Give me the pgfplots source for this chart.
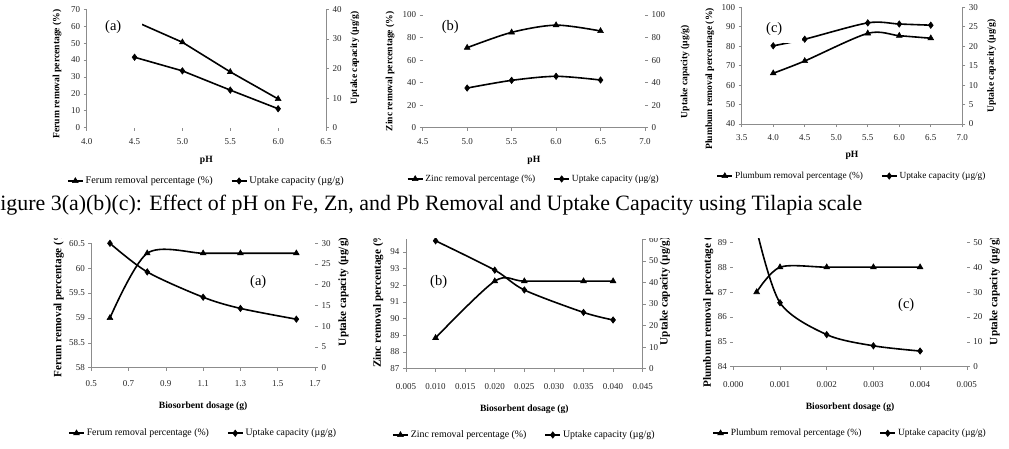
\documentclass[border=0pt]{standalone}
\usepackage{pgfplots}
\pgfplotsset{compat=1.18}
\usepackage{fontspec}
\setmainfont{Liberation Serif}

\newcommand\tickfont{\fontsize{9}{10}\selectfont}
\newcommand\labfont{\fontsize{9.6}{10}\selectfont\bfseries}
\newcommand\blabfont{\fontsize{11.2}{12}\selectfont\bfseries}
\newcommand\panfont{\fontsize{14.5}{15}\selectfont}
\newcommand\lfs[1]{\fontsize{#1}{11}\selectfont}

\pgfplotsset{
  base/.style={
    scale only axis, clip=false,
    tick align=outside, major tick length=3pt,
    axis line style={draw=black!45, line width=0.6pt},
    tick style={draw=black!45, line width=0.6pt},
    every tick label/.append style={font=\tickfont, text=black!85},
    /pgf/number format/assume math mode=true,
    label style={font=\labfont},
    scaled x ticks=false, scaled y ticks=false,
  },
  leftax/.style={base, axis x line*=bottom, axis y line*=left, xticklabel shift=4pt},
  rightax/.style={base, axis x line=none, axis y line*=right,
    legend columns=2,
    legend style={draw=none, fill=none, inner sep=1pt,
      /tikz/every even column/.append style={column sep=16pt}},
    legend image code/.code={\draw[mark repeat=2,mark phase=2]
      plot coordinates {(0pt,0pt) (7.5pt,0pt) (15pt,0pt)};}},
  lower/.style={ylabel style={font=\blabfont}},
  rem/.style={black, line width=1.6pt, mark=triangle*, mark size=3.3pt, mark options={solid, line width=0.6pt}},
  upt/.style={black, line width=1.6pt, mark=diamond*, mark size=3.2pt, mark options={solid, line width=0.6pt}},
  xone/.style={xticklabel style={/pgf/number format/.cd, fixed, fixed zerofill, precision=1}},
  xthree/.style={xticklabel style={/pgf/number format/.cd, fixed, fixed zerofill, precision=3}},
}

\begin{document}
\begin{tikzpicture}
\path[use as bounding box] (0pt,0pt) rectangle (1009pt,448pt);
\clip (0pt,0pt) rectangle (1009pt,448pt);

% ---------- pH series, Fe ----------
\begin{axis}[leftax, xone, at={(86.7pt,320.3pt)}, width=239.3pt, height=118.4pt,
  xmin=4, xmax=6.5, ymin=0, ymax=70,
  xtick={4,4.5,5,5.5,6,6.5}, ytick={0,10,20,30,40,50,60,70},
  x axis line style={draw=none},
  xlabel={pH}, ylabel={Ferum removal percentage (\%)},
  xlabel style={at={(axis description cs:0.5,-0.28)}, anchor=center},
  ylabel style={at={(axis description cs:-0.124,0.454)}, anchor=center}]
\addplot[rem] coordinates {(4.5,63) (5.0,50.5) (5.5,33) (6.0,17)};
\end{axis}
\begin{axis}[rightax, at={(86.7pt,320.3pt)}, width=239.3pt, height=118.4pt,
  xmin=4, xmax=6.5, ymin=0, ymax=40, ytick={0,10,20,30,40},
  ylabel={Uptake capacity (µg/g)},
  ylabel style={at={(axis description cs:1.121,0.589)}, anchor=center},
  legend style={at={(0.5,-0.45)}, anchor=center, font=\lfs{10.2}}]
\addlegendimage{rem}\addlegendentry{Ferum removal percentage (\%)}
\addplot[upt] coordinates {(4.5,23.8) (5.0,19.2) (5.5,12.7) (6.0,6.4)};
\addlegendentry{Uptake capacity (µg/g)}
\end{axis}

% ---------- pH series, Zn ----------
\begin{axis}[leftax, xone, at={(422.7pt,320.3pt)}, width=222.3pt, height=112.7pt,
  xmin=4.5, xmax=7, ymin=0, ymax=100,
  xtick={4.5,5,5.5,6,6.5,7}, ytick={0,20,40,60,80,100},
  y axis line style={draw=none},
  xlabel={pH}, ylabel={Zinc removal percentage (\%)},
  xlabel style={at={(axis description cs:0.5,-0.29)}, anchor=center},
  ylabel style={at={(axis description cs:-0.147,0.5)}, anchor=center}]
\addplot[rem, smooth] coordinates {(5.0,71) (5.5,84.6) (6.0,91) (6.5,85.8)};
\end{axis}
\begin{axis}[rightax, at={(422.7pt,320.3pt)}, width=222.3pt, height=112.7pt,
  xmin=4.5, xmax=7, ymin=0, ymax=100, ytick={0,20,40,60,80,100},
  y axis line style={draw=none},
  ylabel={Uptake capacity (µg/g)},
  ylabel style={at={(axis description cs:1.18,0.497)}, anchor=center},
  legend style={at={(0.5,-0.455)}, anchor=center, font=\lfs{9.4}}]
\addlegendimage{rem}\addlegendentry{Zinc removal percentage (\%)}
\addplot[upt, smooth] coordinates {(5.0,35.2) (5.5,42) (6.0,45.6) (6.5,42.3)};
\addlegendentry{Uptake capacity (µg/g)}
\end{axis}

% ---------- pH series, Pb ----------
\begin{axis}[leftax, xone, at={(741.7pt,324pt)}, width=220.6pt, height=116.7pt,
  xmin=3.5, xmax=7, ymin=40, ymax=100,
  xtick={3.5,4,4.5,5,5.5,6,6.5,7}, ytick={40,50,60,70,80,90,100},
  xlabel={pH}, ylabel={Plumbum removal percentage (\%)},
  xlabel style={at={(axis description cs:0.5,-0.265)}, anchor=center},
  ylabel style={at={(axis description cs:-0.144,0.386)}, anchor=center}]
\addplot[rem, smooth] coordinates {(4.0,66.1) (4.5,72.4) (5.5,86.6) (6.0,85.4) (6.5,84.1)};
\end{axis}
\begin{axis}[rightax, at={(741.7pt,324pt)}, width=220.6pt, height=116.7pt,
  xmin=3.5, xmax=7, ymin=0, ymax=30, ytick={0,5,10,15,20,25,30},
  ylabel={Uptake capacity (µg/g)},
  ylabel style={at={(axis description cs:1.133,0.497)}, anchor=center},
  legend style={at={(0.5,-0.446)}, anchor=center, font=\lfs{9.3}}]
\addlegendimage{rem}\addlegendentry{Plumbum removal percentage (\%)}
\addplot[upt, smooth] coordinates {(4.0,20.1) (4.5,21.8) (5.5,26) (6.0,25.7) (6.5,25.4)};
\addlegendentry{Uptake capacity (µg/g)}
\end{axis}

% panel tags of the pH row
\node[fill=white, inner sep=0pt, minimum width=40.7pt, minimum height=26pt, anchor=north west] at (101pt,434pt) {};
\node[font=\panfont, anchor=base west, inner sep=0pt] at (105pt,417pt) {(a)};
\node[font=\panfont, anchor=base west, inner sep=0pt] at (441.7pt,417pt) {(b)};
\node[fill=white, inner sep=0pt, minimum width=18pt, minimum height=25pt, anchor=north west] at (784pt,430pt) {};
\node[font=\panfont, anchor=base west, inner sep=0pt] at (766pt,415.5pt) {(c)};

% caption line
\node[font=\fontsize{21.9}{24}\selectfont, anchor=base west, inner sep=0pt] at (-12pt,237.3pt)
  {Figure 3(a)(b)(c): Effect of pH on Fe, Zn, and Pb Removal and Uptake Capacity using Tilapia scale};

% ---------- dosage row ----------
\begin{scope}
\clip (0pt,0pt) rectangle (1009pt,209.5pt);

\begin{axis}[leftax, lower, xone, at={(91.3pt,80.3pt)}, width=223.7pt, height=124.4pt,
  xticklabel shift=6pt,
  xmin=0.5, xmax=1.7, ymin=58, ymax=60.5,
  xtick={0.5,0.7,0.9,1.1,1.3,1.5,1.7}, ytick={58,58.5,59,59.5,60,60.5},
  yticklabel style={/pgf/number format/.cd, fixed, precision=1},
  xlabel={Biosorbent dosage (g)}, ylabel={Ferum removal percentage (\%)},
  xlabel style={at={(axis description cs:0.5,-0.308)}, anchor=center},
  ylabel style={at={(axis description cs:-0.146,0.528)}, anchor=center}]
\addplot[rem, smooth] coordinates {(0.6,59) (0.8,60.3) (1.1,60.3) (1.3,60.3) (1.6,60.3)};
\end{axis}
\begin{axis}[rightax, lower, at={(91.3pt,80.3pt)}, width=223.7pt, height=124.4pt,
  xmin=0.5, xmax=1.7, ymin=0, ymax=30, ytick={0,5,10,15,20,25,30},
  y axis line style={draw=none},
  ylabel={Uptake capacity (µg/g)},
  ylabel style={at={(axis description cs:1.127,0.61)}, anchor=center},
  legend style={at={(0.5,-0.527)}, anchor=center, font=\lfs{9.8}}]
\addlegendimage{rem}\addlegendentry{Ferum removal percentage (\%)}
\addplot[upt, smooth] coordinates {(0.6,30) (0.8,23.1) (1.1,17) (1.3,14.3) (1.6,11.7)};
\addlegendentry{Uptake capacity (µg/g)}
\end{axis}

\begin{axis}[leftax, lower, xthree, at={(406pt,79.3pt)}, width=236.7pt, height=129.4pt,
  xticklabel shift=8pt,
  xmin=0.005, xmax=0.045, ymin=87, ymax=94.76,
  xtick={0.005,0.010,0.015,0.020,0.025,0.030,0.035,0.040,0.045},
  ytick={87,88,89,90,91,92,93,94},
  xlabel={Biosorbent dosage (g)}, ylabel={Zinc removal percentage (\%)},
  xlabel style={at={(axis description cs:0.5,-0.314)}, anchor=center},
  ylabel style={at={(axis description cs:-0.117,0.546)}, anchor=center}]
\addplot[rem, smooth] coordinates {(0.010,88.85) (0.020,92.25) (0.025,92.25) (0.035,92.25) (0.040,92.25)};
\end{axis}
\begin{axis}[rightax, lower, at={(406pt,79.3pt)}, width=236.7pt, height=129.4pt,
  xmin=0.005, xmax=0.045, ymin=0, ymax=60, ytick={0,10,20,30,40,50,60},
  ylabel={Uptake capacity (µg/g)},
  ylabel style={at={(axis description cs:1.094,0.6)}, anchor=center},
  legend style={at={(0.5,-0.512)}, anchor=center, font=\lfs{9.9}}]
\addlegendimage{rem}\addlegendentry{Zinc removal percentage (\%)}
\addplot[upt, smooth] coordinates {(0.010,59.3) (0.020,45.7) (0.025,36.5) (0.035,26.1) (0.040,22.6)};
\addlegendentry{Uptake capacity (µg/g)}
\end{axis}

\begin{axis}[leftax, lower, xthree, at={(733.3pt,81.3pt)}, width=233.5pt, height=124.4pt,
  xticklabel shift=8pt,
  xmin=0, xmax=0.005, ymin=84, ymax=89,
  xtick={0,0.001,0.002,0.003,0.004,0.005}, ytick={84,85,86,87,88,89},
  y axis line style={draw=none},
  xlabel={Biosorbent dosage (g)}, ylabel={Plumbum removal percentage (\%)},
  xlabel style={at={(axis description cs:0.5,-0.323)}, anchor=center},
  ylabel style={at={(axis description cs:-0.107,0.496)}, anchor=center}]
\addplot[rem, smooth] coordinates {(0.0005,87) (0.001,88) (0.002,88) (0.003,88) (0.004,88)};
\end{axis}
\begin{axis}[rightax, lower, at={(733.3pt,81.3pt)}, width=233.5pt, height=124.4pt,
  xmin=0, xmax=0.005, ymin=0, ymax=50, ytick={0,10,20,30,40,50},
  y axis line style={draw=none},
  ylabel={Uptake capacity (µg/g)},
  ylabel style={at={(axis description cs:1.12,0.61)}, anchor=center},
  legend style={at={(0.5,-0.535)}, anchor=center, font=\lfs{9.5}}]
\addlegendimage{rem}\addlegendentry{Plumbum removal percentage (\%)}
\addplot[upt, smooth] coordinates {(0.0005,55) (0.001,25.7) (0.002,12.9) (0.003,8.4) (0.004,6.3)};
\addlegendentry{Uptake capacity (µg/g)}
\end{axis}

\node[font=\panfont, anchor=base west, inner sep=0pt] at (250pt,163pt) {(a)};
\node[font=\panfont, anchor=base west, inner sep=0pt] at (430pt,163pt) {(b)};
\node[font=\panfont, anchor=base west, inner sep=0pt] at (898pt,140pt) {(c)};
\end{scope}
\end{tikzpicture}
\end{document}
